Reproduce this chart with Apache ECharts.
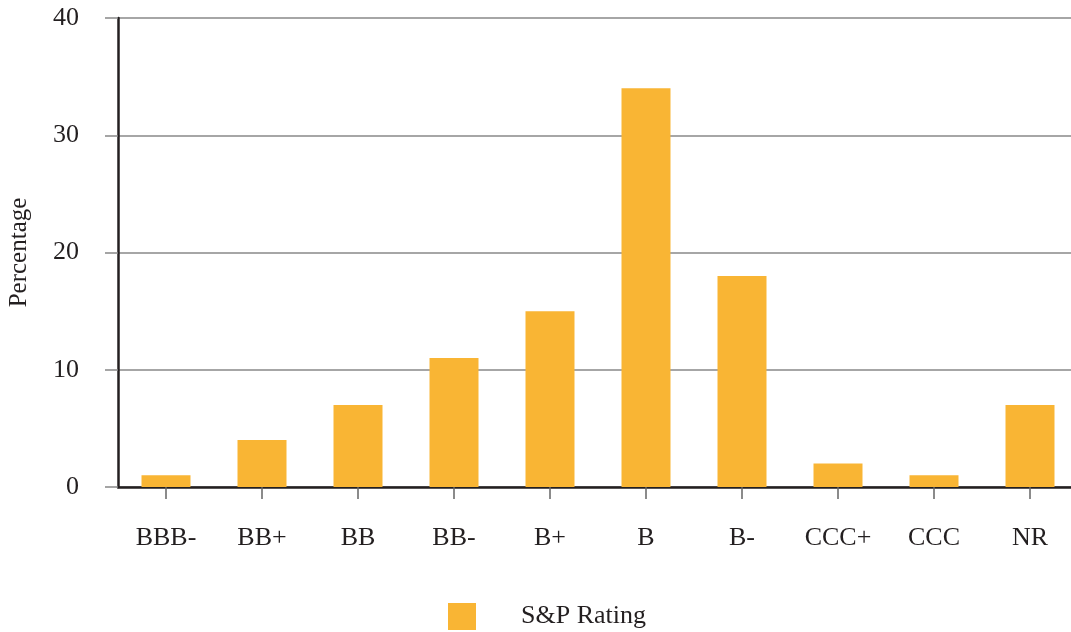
<!DOCTYPE html>
<html>
<head>
<meta charset="utf-8">
<script src="https://cdn.jsdelivr.net/npm/echarts@6/dist/echarts.min.js"></script>
<style>html,body{margin:0;padding:0;background:#fff}#c{width:1071px;height:632px}</style>
</head>
<body>
<div id="c"></div>
<script>
const categories = ['BBB-','BB+','BB','BB-','B+','B','B-','CCC+','CCC','NR'];
const values = [1,4,7,11,15,34,18,2,1,7];
const seriesName = 'S&P Rating';
const yAxisName = 'Percentage';
const font = '"Liberation Serif", "Times New Roman", serif';

const chart = echarts.init(document.getElementById('c'));
chart.setOption({
  animation: false,
  backgroundColor: '#ffffff',
  grid: {left: 118, right: -7, top: 18, bottom: 145, containLabel: false, outerBoundsMode: 'none'},
  legend: {
    data: [seriesName],
    left: 443, top: 598,
    icon: 'rect', itemWidth: 28, itemHeight: 27,
    textStyle: {fontFamily: font, fontSize: 26, color: '#231f20', padding: [0,0,0,40]}
  },
  xAxis: {
    type: 'category', data: categories,
    axisLine: {show: true, lineStyle: {color: '#231f20', width: 2.5}},
    axisTick: {show: true, alignWithLabel: true, length: 12, lineStyle: {color: '#666', width: 1.5}},
    axisLabel: {fontFamily: font, fontSize: 26, color: '#231f20', margin: 38}
  },
  yAxis: {
    type: 'value', min: 0, max: 40, interval: 10,
    name: yAxisName, nameLocation: 'middle', nameGap: 86,
    nameTextStyle: {fontFamily: font, fontSize: 25, color: '#231f20'},
    axisLine: {show: true, lineStyle: {color: '#231f20', width: 2.5}},
    axisTick: {show: true, length: 13, lineStyle: {color: '#888', width: 1.5}},
    axisLabel: {fontFamily: font, fontSize: 26, color: '#231f20', margin: 39},
    splitLine: {show: true, lineStyle: {color: '#888', width: 1.5}}
  },
  series: [{
    name: seriesName, type: 'bar', data: values,
    barWidth: 49,
    itemStyle: {color: '#F9B534'}
  }]
});
</script>
</body>
</html>
